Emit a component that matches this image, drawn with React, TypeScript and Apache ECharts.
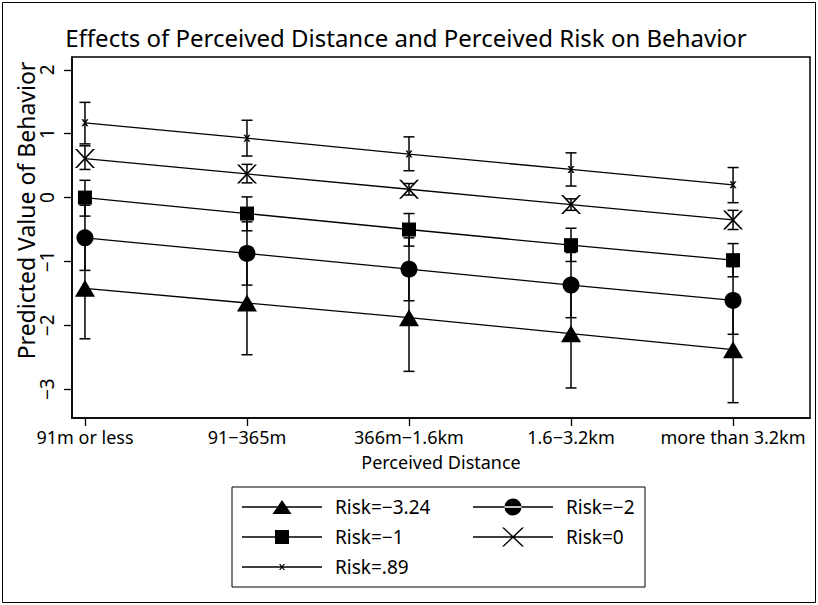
import React, { useEffect, useRef } from 'react';
import * as echarts from 'echarts';

// ---- data ----
const categories = ['91m or less', '91−365m', '366m−1.6km', '1.6−3.2km', 'more than 3.2km'];
const yTickValues = [-3, -2, -1, 0, 1, 2];
const riskNames = ['Risk=−3.24', 'Risk=−2', 'Risk=−1', 'Risk=0', 'Risk=.89'];

const predRiskM324 = [-1.42, -1.65, -1.88, -2.13, -2.38];
const lowRiskM324 = [-2.21, -2.46, -2.72, -2.98, -3.21];
const highRiskM324 = [-0.63, -0.84, -1.05, -1.29, -1.55];

const predRiskM2 = [-0.63, -0.875, -1.12, -1.37, -1.61];
const lowRiskM2 = [-1.14, -1.37, -1.615, -1.88, -2.14];
const highRiskM2 = [-0.12, -0.38, -0.63, -0.86, -1.08];

const predRiskM1 = [0, -0.25, -0.5, -0.745, -0.98];
const lowRiskM1 = [-0.29, -0.52, -0.76, -1.0, -1.24];
const highRiskM1 = [0.27, 0.01, -0.25, -0.48, -0.72];

const predRisk0 = [0.61, 0.37, 0.13, -0.11, -0.35];
const lowRisk0 = [0.44, 0.23, 0.04, -0.2, -0.5];
const highRisk0 = [0.81, 0.52, 0.22, -0.02, -0.2];

const predRisk089 = [1.17, 0.93, 0.68, 0.44, 0.2];
const lowRisk089 = [0.84, 0.65, 0.42, 0.18, -0.08];
const highRisk089 = [1.49, 1.21, 0.95, 0.7, 0.47];

const FONT = '"Noto Sans", "DejaVu Sans", sans-serif';

const bigX = 'path://M0,0 L2.2,0 L20,20 L17.8,20 Z M17.8,0 L20,0 L2.2,20 L0,20 Z';
const smallX = 'path://M0,0 L2.6,0 L10,10 L7.4,10 Z M7.4,0 L10,0 L2.6,10 L0,10 Z';

// legend icons (80 wide line + marker)
const legTri = 'path://M0,6.35 H80 V7.65 H0 Z M40,0 L49.5,14 L30.5,14 Z';
const legCirc = 'path://M0,7.85 H80 V9.15 H0 Z M31.5,8.5 A8.5,8.5 0 1 0 48.5,8.5 A8.5,8.5 0 1 0 31.5,8.5 Z';
const legSq = 'path://M0,6.35 H80 V7.65 H0 Z M33,0 H47 V14 H33 Z';
const legBigX = 'path://M0,8.85 H80 V10.15 H0 Z M29,0 L31,0 L51,19 L49,19 Z M49,0 L51,0 L31,19 L29,19 Z';
const legSmallX = 'path://M0,2.35 H80 V3.65 H0 Z M37,0 L38.4,0 L43,6 L41.6,6 Z M41.6,0 L43,0 L38.4,6 L37,6 Z';

const legendCol1 = [riskNames[0], riskNames[2], riskNames[4]];

const fmtNum = (v: number) => (v < 0 ? '−' + Math.abs(v) : String(v));

export default function App() {
  const ref = useRef<HTMLDivElement>(null);
  useEffect(() => {
    document.body.style.margin = '0';
    if (!ref.current) return;
    const chart = echarts.init(ref.current, null, { renderer: 'svg' });

    const groups = [
      { name: riskNames[0], pred: predRiskM324, low: lowRiskM324, high: highRiskM324, symbol: 'triangle', size: [20, 17] },
      { name: riskNames[1], pred: predRiskM2, low: lowRiskM2, high: highRiskM2, symbol: 'circle', size: 17 },
      { name: riskNames[2], pred: predRiskM1, low: lowRiskM1, high: highRiskM1, symbol: 'rect', size: 14 },
      { name: riskNames[3], pred: predRisk0, low: lowRisk0, high: highRisk0, symbol: bigX, size: [20, 19] },
      { name: riskNames[4], pred: predRisk089, low: lowRisk089, high: highRisk089, symbol: smallX, size: 7 },
    ];

    const series: any[] = [];
    groups.forEach((g) => {
      series.push({
        name: 'ci ' + g.name,
        type: 'custom',
        z: 1,
        silent: true,
        data: categories.map((_, i) => [i + 1, g.low[i], g.high[i]]),
        encode: { x: 0, y: [1, 2] },
        renderItem: (params: any, api: any) => {
          const x = api.value(0);
          const top = api.coord([x, api.value(2)]);
          const bot = api.coord([x, api.value(1)]);
          const st = { stroke: '#000', lineWidth: 1.5 };
          return {
            type: 'group',
            children: [
              { type: 'line', shape: { x1: top[0], y1: top[1], x2: bot[0], y2: bot[1] }, style: st },
              { type: 'line', shape: { x1: top[0] - 5.5, y1: top[1], x2: top[0] + 5.5, y2: top[1] }, style: st },
              { type: 'line', shape: { x1: bot[0] - 5.5, y1: bot[1], x2: bot[0] + 5.5, y2: bot[1] }, style: st },
            ],
          };
        },
      });
    });
    groups.forEach((g) => {
      series.push({
        name: g.name,
        type: 'line',
        z: 3,
        data: categories.map((_, i) => [i + 1, g.pred[i]]),
        symbol: g.symbol,
        symbolSize: g.size,
        showSymbol: true,
        itemStyle: { color: '#000', borderWidth: 0 },
        lineStyle: { color: '#000', width: 1.3 },
        emphasis: { disabled: true },
      });
    });

    const richBase = { fontSize: 19, fontFamily: FONT, color: '#000', height: 22, lineHeight: 22 };

    chart.setOption({
      animation: false,
      backgroundColor: '#fff',
      graphic: [
        {
          type: 'rect',
          silent: true,
          shape: { x: 2.5, y: 2.5, width: 813, height: 600 },
          style: { fill: 'none', stroke: '#000', lineWidth: 1 },
        },
        {
          type: 'text',
          x: 406,
          y: 37,
          silent: true,
          style: {
            text: 'Effects of Perceived Distance and Perceived Risk on Behavior',
            font: '24px ' + FONT,
            fill: '#000',
            align: 'center',
            verticalAlign: 'middle',
            textAlign: 'center',
            textVerticalAlign: 'middle',
          },
        },
      ],
      grid: {
        left: 72,
        right: 8,
        top: 57,
        bottom: 187,
        show: true,
        borderColor: '#000',
        borderWidth: 1.5,
        backgroundColor: '#fff',
        containLabel: false,
        outerBoundsMode: 'none',
      },
      xAxis: {
        type: 'value',
        min: 0.92,
        max: 5.475,
        name: 'Perceived Distance',
        nameLocation: 'middle',
        nameGap: 34.5,
        nameMoveOverlap: false,
        nameTextStyle: { fontSize: 18, lineHeight: 19, color: '#000', fontFamily: FONT },
        axisLine: { show: true, onZero: false, lineStyle: { color: '#000', width: 1.5 } },
        axisTick: { show: true, length: 8, customValues: [1, 2, 3, 4, 5], lineStyle: { color: '#000', width: 1.3 } },
        axisLabel: {
          customValues: [1, 2, 3, 4, 5],
          formatter: (v: number) => categories[Math.round(v) - 1] ?? '',
          color: '#000',
          fontSize: 18,
          lineHeight: 19,
          fontFamily: FONT,
          margin: 9.5,
        },
        splitLine: { show: false },
      },
      yAxis: {
        type: 'value',
        min: -3.45,
        max: 2.2,
        name: 'Predicted Value of Behavior',
        nameLocation: 'middle',
        nameGap: 46,
        nameMoveOverlap: false,
        nameTextStyle: {
          fontSize: 23,
          lineHeight: 22,
          color: '#000',
          fontFamily: FONT,
          verticalAlign: 'middle',
          padding: [0, 0, 0, 54],
        },
        axisLine: { show: true, onZero: false, lineStyle: { color: '#000', width: 1.5 } },
        axisTick: { show: true, length: 8, customValues: yTickValues, lineStyle: { color: '#000', width: 1.3 } },
        axisLabel: {
          customValues: yTickValues,
          rotate: 90,
          formatter: (v: number) => fmtNum(v),
          color: '#000',
          fontSize: 19,
          lineHeight: 19,
          fontFamily: FONT,
          verticalAlign: 'middle',
          margin: 25,
        },
        splitLine: { show: false },
      },
      legend: {
        orient: 'vertical',
        left: 232,
        top: 487,
        height: 90,
        itemWidth: 80,
        itemHeight: 22,
        itemGap: 8,
        padding: [9, 10, 9, 10],
        borderColor: '#000',
        borderWidth: 1,
        backgroundColor: '#fff',
        selectedMode: false,
        formatter: (name: string) => (legendCol1.includes(name) ? '{w|' + name + '}' : '{n|' + name + '}'),
        textStyle: {
          fontSize: 19,
          color: '#000',
          fontFamily: FONT,
          rich: {
            w: { ...richBase, width: 130, padding: [0, 0, 0, 8] },
            n: { ...richBase, width: 69, padding: [0, 0, 0, 8] },
          },
        },
        data: [
          { name: riskNames[0], icon: legTri },
          { name: riskNames[2], icon: legSq },
          { name: riskNames[4], icon: legSmallX },
          { name: riskNames[1], icon: legCirc },
          { name: riskNames[3], icon: legBigX },
        ],
      },
      tooltip: { show: false },
      series,
    });
    return () => chart.dispose();
  }, []);
  return <div ref={ref} style={{ width: 818, height: 605, background: '#fff' }} />;
}
